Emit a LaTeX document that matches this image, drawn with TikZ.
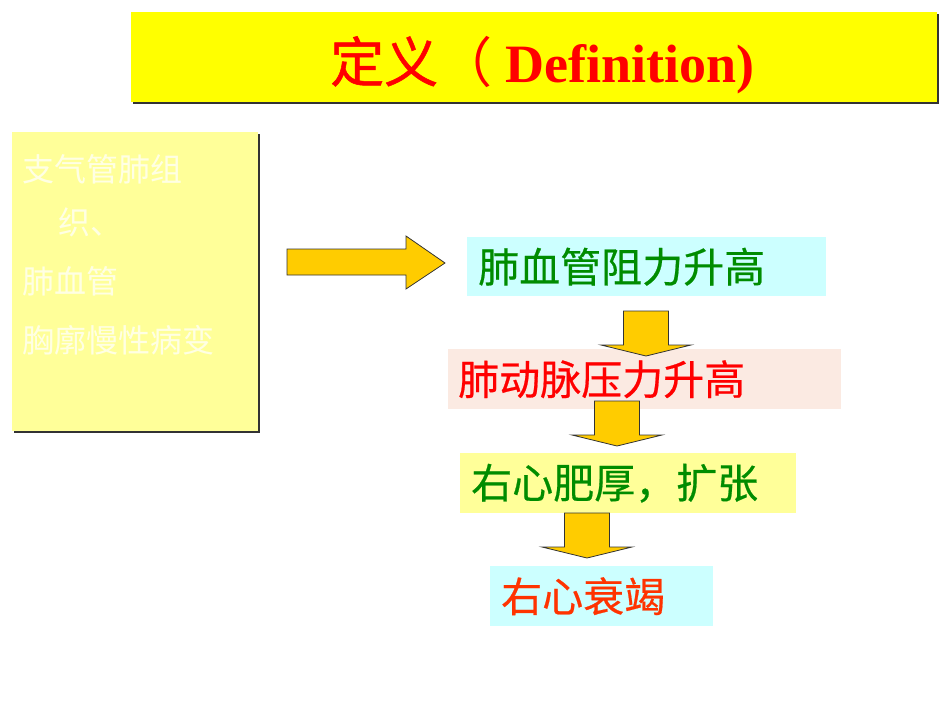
\documentclass[tikz,border=0pt]{standalone}
\usepackage{fontspec}
\setmainfont{Liberation Serif}
\newfontfamily\cjk{Noto Sans CJK SC}
\newfontfamily\cjkmedium[FakeBold=0.5]{Noto Sans CJK SC}
\newfontfamily\cjkbold[FakeBold=1]{Noto Sans CJK SC}
\usetikzlibrary{shadows}

\definecolor{titleyellow}{RGB}{255,255,0}
\definecolor{paleyellow}{RGB}{255,255,153}
\definecolor{paletext}{RGB}{255,255,228}
\definecolor{arrowgold}{RGB}{255,204,0}
\definecolor{palecyan}{RGB}{204,255,255}
\definecolor{palepink}{RGB}{251,234,226}
\definecolor{flowgreen}{RGB}{0,140,0}
\definecolor{flowred}{RGB}{255,0,0}
\definecolor{floworange}{RGB}{255,51,0}

\newcommand\flowhalfbody{22.5}
\newcommand\flowhalfhead{45}
\newcommand\flowarrowdown[2]{
  \draw[flowarrow] (#1 - \flowhalfbody, #2) -- ++ (2 * \flowhalfbody, 0) -- ++ (0, 34)
    -- (#1 + \flowhalfhead, #2 + 34) -- (#1, #2 + 45) -- (#1 - \flowhalfhead, #2 + 34)
    -- (#1 - \flowhalfbody, #2 + 34) -- cycle ;
}

\tikzset{
  flowarrow/.style={draw=black!80, line width=.8pt, fill=arrowgold},
  shadowbox/.style={draw=none, inner sep=0pt,
    drop shadow={shadow xshift=2pt, shadow yshift=-2pt, fill=black!80, opacity=1}},
  flowbox/.style={draw=none, anchor=north west, inner xsep=11pt, inner ysep=0pt,
    align=left, font=\cjkmedium\fontsize{41}{49}\selectfont},
  causeline/.style={anchor=base west, inner sep=0pt, text=paletext,
    font=\cjk\fontsize{32}{38}\selectfont}
}

\begin{document}
\begin{tikzpicture}[x=1pt, y=-1pt]
    \useasboundingbox (0, 0) rectangle (950, 713) ;
    % title bar
    \node[shadowbox, fill=titleyellow, minimum width=806pt, minimum height=90pt, anchor=north west] (title) at (131, 12) {} ;
    \node[anchor=base, text=flowred, font=\fontsize{54}{60}\selectfont\bfseries] (titletext) at (542.5, 82) {{\cjkbold\mdseries 定义}{\cjk\mdseries （} Definition)} ;
    % causes
    \node[shadowbox, fill=paleyellow, minimum width=246pt, minimum height=299pt, anchor=north west] (causes) at (12, 132) {} ;
    \node[causeline] (cause1) at (22, 181) {支气管肺组} ;
    \node[causeline] (cause2) at (58, 234) {织、} ;
    \node[causeline] (cause3) at (22, 293) {肺血管} ;
    \node[causeline] (cause4) at (22, 352) {胸廓慢性病变} ;
    \draw[flowarrow] (287, 249) -- (406, 249) -- (406, 236) -- (445, 263) -- (406, 289) -- (406, 275) -- (287, 275) -- cycle ;
    % chain
    \node[flowbox, fill=palecyan, text=flowgreen, minimum width=359pt, minimum height=59pt, text width=337pt] (resist) at (467, 237) {肺血管阻力升高} ;
    \node[flowbox, fill=palepink, text=flowred, minimum width=393pt, minimum height=60pt, text width=373pt, inner xsep=10pt] (pressure) at (448, 349) {肺动脉压力升高} ;
    \node[flowbox, fill=paleyellow, text=flowgreen, minimum width=336pt, minimum height=60pt, text width=314pt] (hypertrophy) at (460, 453) {右心肥厚，扩张} ;
    \node[flowbox, fill=palecyan, text=floworange, minimum width=223pt, minimum height=60pt, text width=201pt] (failure) at (490, 566) {右心衰竭} ;
    \flowarrowdown{646}{311}
    \flowarrowdown{617}{401}
    \flowarrowdown{587}{513}
\end{tikzpicture}
\end{document}
